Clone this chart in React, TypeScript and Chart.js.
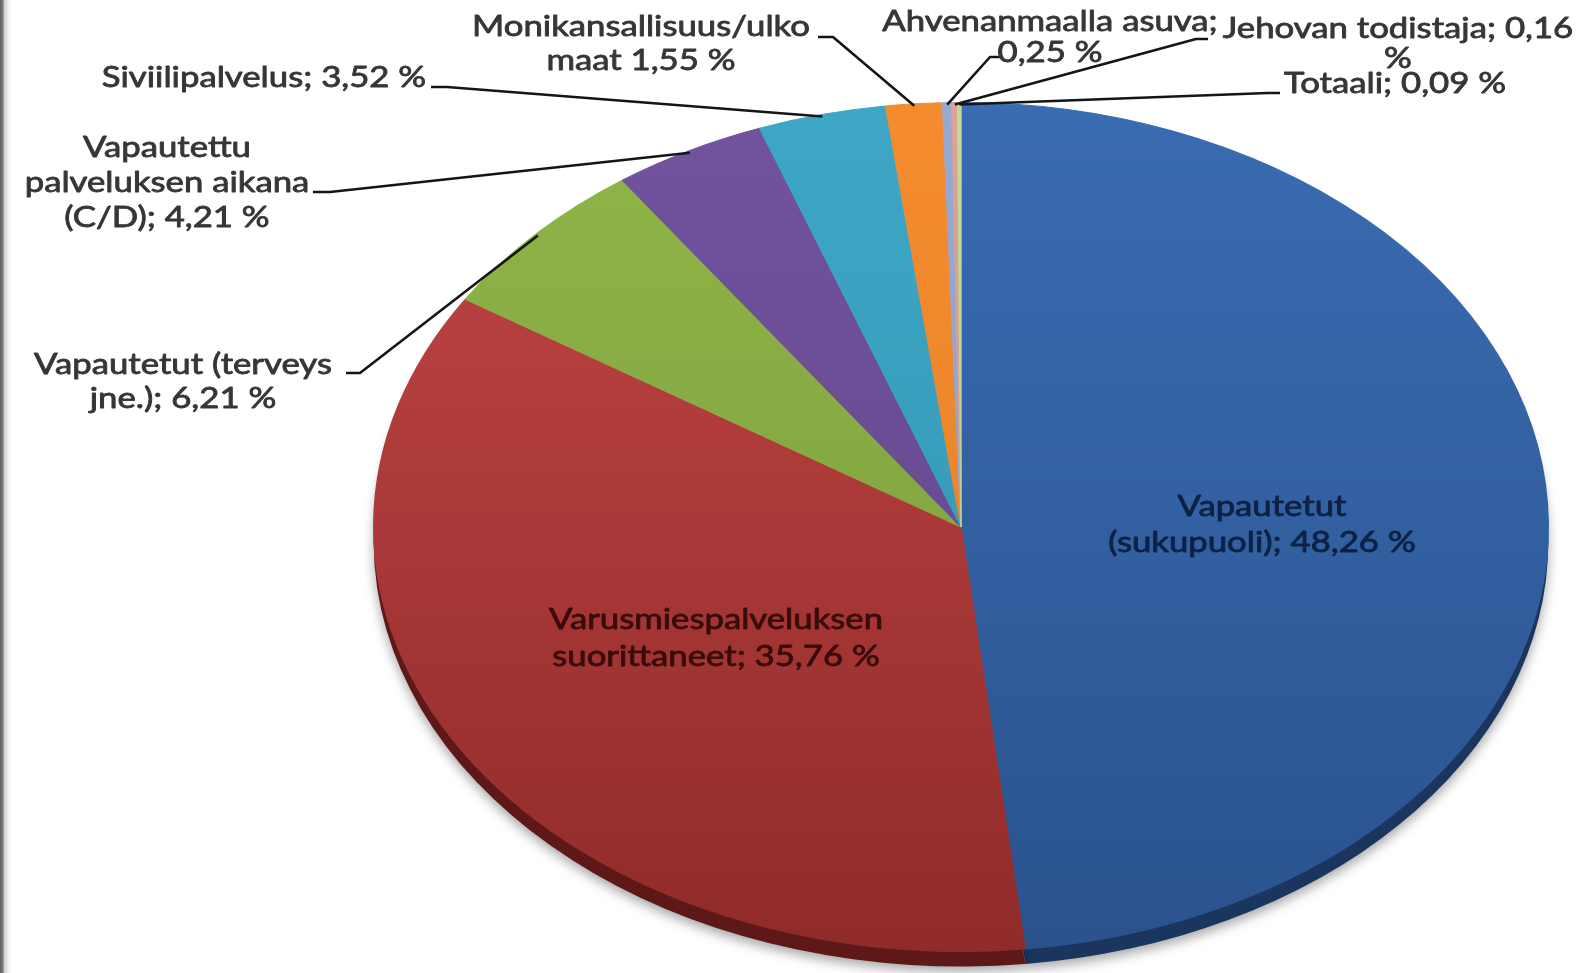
import React, { useEffect, useRef } from "react";
import { Chart, registerables } from "chart.js";

Chart.register(...registerables);

// ---- data ----
const categories = [
  "Vapautetut (sukupuoli)",
  "Varusmiespalveluksen suorittaneet",
  "Vapautetut (terveys jne.)",
  "Vapautettu palveluksen aikana (C/D)",
  "Siviilipalvelus",
  "Monikansallisuus/ulko maat",
  "Ahvenanmaalla asuva",
  "Jehovan todistaja",
  "Totaali",
];
const shares = [48.26, 35.76, 6.21, 4.21, 3.52, 1.55, 0.25, 0.16, 0.09];
const labelLines = [
  ["Vapautetut", "(sukupuoli); 48,26 %"],
  ["Varusmiespalveluksen", "suorittaneet; 35,76 %"],
  ["Vapautetut (terveys", "jne.); 6,21 %"],
  ["Vapautettu", "palveluksen aikana", "(C/D); 4,21 %"],
  ["Siviilipalvelus; 3,52 %"],
  ["Monikansallisuus/ulko", "maat 1,55 %"],
  ["Ahvenanmaalla asuva;", "0,25 %"],
  ["Jehovan todistaja; 0,16", "%"],
  ["Totaali; 0,09 %"],
];

// ---- styles ----
const topColors = ["#3a6cb2", "#c34746", "#8fb548", "#72539e", "#3ea7c6", "#f48c2f", "#98aad4", "#d9a595", "#c6d89e"];
const bottomColors = ["#2a538e", "#8f2b2a", "#7b9c3c", "#5f4588", "#3192b0", "#e57d24", "#8a9cc6", "#cc9585", "#b5c88d"];
const rimColors = ["#1b365e", "#5e1818", "#51692a", "#3f2d5c", "#1f6378", "#a9581a", "#5d6b8f", "#8e6457", "#7d8c5e"];

const CX = 961;
const CY = 527;
const RY = 425;
const RX = 588;
const SX = RX / RY;
const DEPTH = 15;
const W = 1590;
const H = 973;
const FONT = "28px Lato";
const TEXT_SX = 1.24;

type LabelCfg = {
  x: number;
  y: number;
  lh: number;
  color: string;
  start?: [number, number];
  bend?: [number, number];
};
const labelLayout: LabelCfg[] = [
  { x: 1262, y: 507, lh: 35.5, color: "#0d2145" },
  { x: 716, y: 620, lh: 36.5, color: "#3a0b0b" },
  { x: 183, y: 365, lh: 34, color: "#363636", start: [346, 373], bend: [360, 373] },
  { x: 167, y: 148, lh: 35, color: "#363636", start: [313, 192], bend: [330, 192] },
  { x: 264, y: 78, lh: 34, color: "#363636", start: [431, 87], bend: [447, 87] },
  { x: 641, y: 27, lh: 34, color: "#363636", start: [818, 37], bend: [833, 37] },
  { x: 1050, y: 22, lh: 31, color: "#363636", start: [1001, 57], bend: [990, 57] },
  { x: 1398, y: 29, lh: 30, color: "#363636", start: [1208, 39], bend: [1196, 39] },
  { x: 1395, y: 84, lh: 30, color: "#363636", start: [1280, 93], bend: [1268, 93] },
];

function drawText(ctx: CanvasRenderingContext2D, text: string, x: number, y: number, color: string) {
  ctx.save();
  ctx.translate(x, y);
  ctx.scale(TEXT_SX, 1);
  ctx.fillStyle = color;
  ctx.strokeStyle = color;
  ctx.lineWidth = 0.8;
  ctx.lineJoin = "round";
  ctx.font = FONT;
  ctx.textAlign = "center";
  ctx.textBaseline = "middle";
  ctx.fillText(text, 0, 0);
  ctx.strokeText(text, 0, 0);
  ctx.restore();
}

const borderPlugin = {
  id: "leftBorder",
  beforeDraw(chart: any) {
    const ctx = chart.ctx as CanvasRenderingContext2D;
    const g = ctx.createLinearGradient(0, 0, 14, 0);
    g.addColorStop(0, "#5e5e5e");
    g.addColorStop(0.2, "#7a7a7a");
    g.addColorStop(0.32, "#cfcfcf");
    g.addColorStop(1, "rgba(255,255,255,0)");
    ctx.save();
    ctx.fillStyle = g;
    ctx.fillRect(0, 0, 14, H);
    ctx.restore();
  },
};

const ellipsePlugin = {
  id: "ellipse3d",
  beforeDatasetsDraw(chart: any) {
    const ctx = chart.ctx as CanvasRenderingContext2D;
    const meta = chart.getDatasetMeta(0);
    ctx.save();
    ctx.translate(CX, 0);
    ctx.scale(SX, 1);
    ctx.translate(-CX, 0);
    ctx.save();
    ctx.shadowColor = "rgba(0,0,0,0.35)";
    ctx.shadowBlur = 12;
    ctx.shadowOffsetY = 5;
    meta.data.forEach((arc: any, i: number) => {
      const p = arc.getProps(["x", "y", "startAngle", "endAngle", "outerRadius"], true);
      ctx.beginPath();
      ctx.moveTo(p.x, p.y + DEPTH);
      ctx.arc(p.x, p.y + DEPTH, p.outerRadius, p.startAngle, p.endAngle);
      ctx.closePath();
      ctx.fillStyle = rimColors[i];
      ctx.fill();
    });
    ctx.restore();
  },
  afterDatasetsDraw(chart: any) {
    const ctx = chart.ctx as CanvasRenderingContext2D;
    ctx.restore();
    const meta = chart.getDatasetMeta(0);
    // leader lines
    ctx.save();
    ctx.strokeStyle = "#151515";
    ctx.lineWidth = 2.6;
    ctx.lineJoin = "round";
    meta.data.forEach((arc: any, i: number) => {
      const L = labelLayout[i];
      if (!L.start || !L.bend) return;
      const p = arc.getProps(["x", "y", "startAngle", "endAngle", "outerRadius"], true);
      const a = (p.startAngle + p.endAngle) / 2;
      const r = p.outerRadius - 2;
      const ax = p.x + SX * r * Math.cos(a);
      const ay = p.y + r * Math.sin(a);
      ctx.beginPath();
      ctx.moveTo(L.start[0], L.start[1]);
      ctx.lineTo(L.bend[0], L.bend[1]);
      ctx.lineTo(ax, ay);
      ctx.stroke();
    });
    ctx.restore();
    // labels
    labelLines.forEach((lines, i) => {
      const L = labelLayout[i];
      lines.forEach((t, k) => drawText(ctx, t, L.x, L.y + k * L.lh, L.color));
    });
  },
};

function sliceFill(c: any) {
  const i = c.dataIndex;
  if (i === undefined || !c.chart || !c.chart.ctx) return topColors[0];
  const g = c.chart.ctx.createLinearGradient(0, CY - RY, 0, CY + RY);
  g.addColorStop(0, topColors[i]);
  g.addColorStop(1, bottomColors[i]);
  return g;
}

export default function App() {
  const ref = useRef<HTMLCanvasElement | null>(null);
  useEffect(() => {
    if (!ref.current) return;
    const chart = new Chart(ref.current, {
      type: "pie",
      data: {
        labels: categories,
        datasets: [
          {
            data: shares,
            backgroundColor: sliceFill,
            borderColor: sliceFill,
            borderWidth: 1,
            clip: false,
          } as any,
        ],
      },
      options: {
        responsive: false,
        animation: false,
        events: [],
        rotation: 0,
        layout: {
          padding: {
            left: CX - RY,
            right: W - (CX + RY),
            top: CY - RY,
            bottom: H - (CY + RY),
          },
        },
        plugins: {
          legend: { display: false },
          tooltip: { enabled: false },
          title: { display: false },
        },
      },
      plugins: [borderPlugin, ellipsePlugin],
    });
    return () => chart.destroy();
  }, []);
  return (
    <div style={{ position: "fixed", left: 0, top: 0, width: W, height: H, background: "#fff" }}>
      <canvas ref={ref} width={W} height={H} style={{ width: W, height: H, display: "block" }} />
    </div>
  );
}
